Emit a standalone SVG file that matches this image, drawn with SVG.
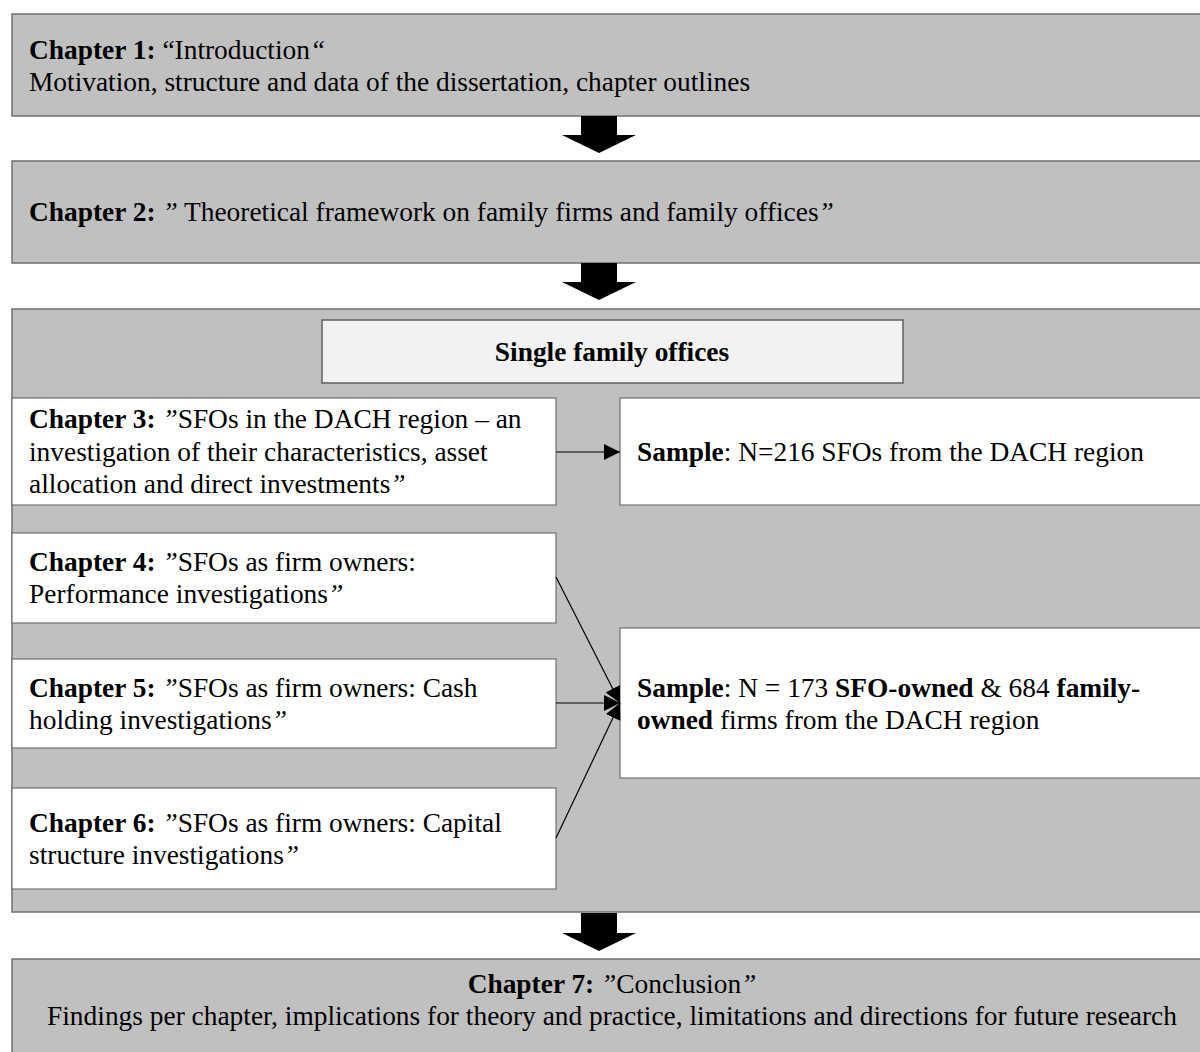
<svg xmlns="http://www.w3.org/2000/svg" width="1200" height="1052" viewBox="0 0 1200 1052">
<style>
.grey{fill:#c0c0c0;stroke:#707070;stroke-width:1.5}
.white{fill:#ffffff;stroke:#707070;stroke-width:1.2}
.light{fill:#f2f2f2;stroke:#606060;stroke-width:1.5}
text{font-family:"Liberation Serif","Times New Roman",serif;font-size:27.4px;fill:#000}
.b{font-weight:bold}
.i{font-style:italic}
.conn{stroke:#000;stroke-width:1.2;fill:none}
.big{fill:#000}
</style>
<defs>
<marker id="ah" viewBox="0 0 10 10" refX="10" refY="5" markerWidth="16" markerHeight="16" markerUnits="userSpaceOnUse" orient="auto">
<path d="M0,0 L10,5 L0,10 Z" fill="#000"/>
</marker>
</defs>
<rect width="1200" height="1052" fill="#fff"/>
<g id="chapter1">
<rect class="grey" x="12" y="14" width="1200" height="102"/>
<text x="29" y="59"><tspan class="b">Chapter 1:</tspan> “Introduction<tspan class="i">“</tspan></text>
<text x="29" y="91">Motivation, structure and data of the dissertation, chapter outlines</text>
</g>
<g id="chapter2">
<rect class="grey" x="12" y="161" width="1200" height="102"/>
<text x="29" y="221"><tspan class="b">Chapter 2:</tspan> <tspan class="i">”</tspan> Theoretical framework on family firms and family offices<tspan class="i">”</tspan></text>
</g>
<g id="sfo-block">
<rect class="grey" x="12" y="309" width="1200" height="603"/>
</g>
<g id="single-family-offices">
<rect class="light" x="322" y="320" width="581" height="63"/>
<text class="b" x="612" y="361" text-anchor="middle">Single family offices</text>
</g>
<g id="chapter3">
<rect class="white" x="12" y="398" width="544" height="107"/>
<text x="29" y="428"><tspan class="b">Chapter 3:</tspan> <tspan class="i">”</tspan>SFOs in the DACH region – an</text>
<text x="29" y="461">investigation of their characteristics, asset</text>
<text x="29" y="493">allocation and direct investments<tspan class="i">”</tspan></text>
</g>
<g id="sample1">
<rect class="white" x="620" y="398" width="600" height="107"/>
<text x="637" y="461"><tspan class="b">Sample</tspan>: N=216 SFOs from the DACH region</text>
</g>
<g id="chapter4">
<rect class="white" x="12" y="533" width="544" height="90"/>
<text x="29" y="571"><tspan class="b">Chapter 4:</tspan> <tspan class="i">”</tspan>SFOs as firm owners:</text>
<text x="29" y="603">Performance investigations<tspan class="i">”</tspan></text>
</g>
<g id="chapter5">
<rect class="white" x="12" y="659" width="544" height="89"/>
<text x="29" y="697"><tspan class="b">Chapter 5:</tspan> <tspan class="i">”</tspan>SFOs as firm owners: Cash</text>
<text x="29" y="729">holding investigations<tspan class="i">”</tspan></text>
</g>
<g id="chapter6">
<rect class="white" x="12" y="788" width="544" height="101"/>
<text x="29" y="832"><tspan class="b">Chapter 6:</tspan> <tspan class="i">”</tspan>SFOs as firm owners: Capital</text>
<text x="29" y="864">structure investigations<tspan class="i">”</tspan></text>
</g>
<g id="sample2">
<rect class="white" x="620" y="628" width="600" height="150"/>
<text x="637" y="697"><tspan class="b">Sample</tspan>: N = 173 <tspan class="b">SFO-owned</tspan> &amp; 684 <tspan class="b">family-</tspan></text>
<text x="637" y="729"><tspan class="b">owned</tspan> firms from the DACH region</text>
</g>
<g id="chapter7">
<rect class="grey" x="12" y="959" width="1200" height="102"/>
<text x="612" y="993" text-anchor="middle"><tspan class="b">Chapter 7:</tspan> <tspan class="i">”</tspan>Conclusion<tspan class="i">”</tspan></text>
<text x="612" y="1025" text-anchor="middle">Findings per chapter, implications for theory and practice, limitations and directions for future research</text>
</g>
<g id="connectors">
<path class="big" d="M581,116 H617 V135 H636 L599,153 L562,135 H581 Z"/>
<path class="big" d="M581,263 H617 V282 H636 L599,300 L562,282 H581 Z"/>
<path class="big" d="M581,913 H617 V933 H636 L599,951 L562,933 H581 Z"/>
<line class="conn" x1="556" y1="452" x2="620" y2="452" marker-end="url(#ah)"/>
<line class="conn" x1="556" y1="577" x2="620" y2="703" marker-end="url(#ah)"/>
<line class="conn" x1="556" y1="703" x2="620" y2="703" marker-end="url(#ah)"/>
<line class="conn" x1="556" y1="838" x2="620" y2="703" marker-end="url(#ah)"/>
</g>
</svg>
